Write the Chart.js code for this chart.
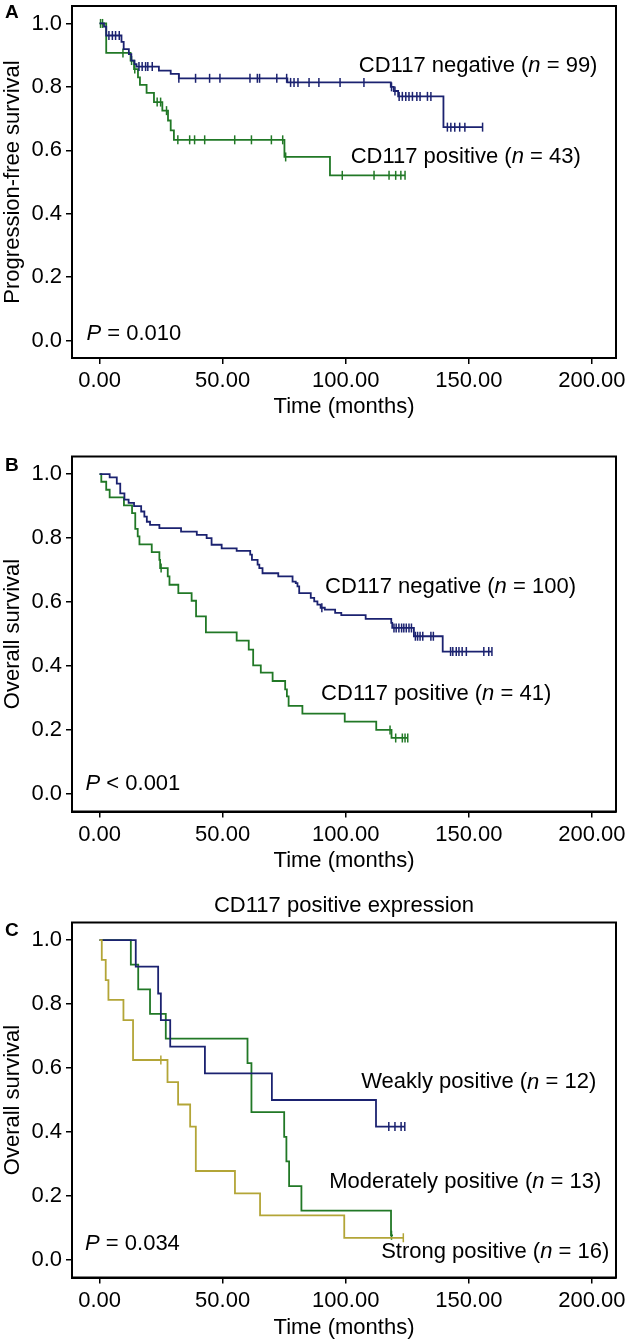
<!DOCTYPE html>
<html>
<head>
<meta charset="utf-8">
<title>CD117 survival curves</title>
<script src="https://cdn.jsdelivr.net/npm/chart.js@4.4.1/dist/chart.umd.min.js"></script>
<style>
  html, body { margin: 0; padding: 0; background: #fff; }
  #wrap { position: relative; width: 630px; height: 1344px; overflow: hidden; }
  canvas { position: absolute; left: 0; }
  .tag { position: absolute; left: 5px; font: bold 19px "Liberation Sans", Arial, sans-serif; line-height: 19px; color: #000; }
</style>
</head>
<body>
<div id="wrap">
  <canvas id="chartA" width="630" height="440" style="top:0"></canvas>
  <canvas id="chartB" width="630" height="440" style="top:440px"></canvas>
  <canvas id="chartC" width="630" height="464" style="top:880px"></canvas>
  <div class="tag" style="top:2px">A</div>
  <div class="tag" style="top:455px">B</div>
  <div class="tag" style="top:920px">C</div>
</div>
<script>
// Axis ticks shared by all three panels
const xTicks = [0, 50, 100, 150, 200];
const yTicks = [0, 0.2, 0.4, 0.6, 0.8, 1.0];

// Panel A - progression-free survival
const pfsNegTime = [0, 1.8, 2.7, 8.9, 9.8, 11.9, 12.9, 14.2, 15.0, 24.1, 28.9, 32.2, 76.3, 118.3, 119.5, 121.3, 139.7, 155.6];
const pfsNegSurv = [1.0, 0.99, 0.962, 0.942, 0.919, 0.903, 0.883, 0.872, 0.864, 0.851, 0.841, 0.827, 0.814, 0.80, 0.787, 0.77, 0.673, 0.673];
const pfsNegCens = [3.8, 5.2, 6.5, 8.0, 16.0, 17.3, 18.7, 19.6, 21.4, 32.2, 39.0, 44.7, 48.9, 61.1, 64.1, 65.0, 72.0, 76.0,
  77.6, 79.0, 80.6, 85.1, 89.1, 97.7, 107.4, 118.6, 120.0, 121.7, 123.0, 124.4, 125.7, 127.1, 128.9, 130.2, 133.2, 134.6,
  141.3, 142.7, 144.3, 146.3, 148.4, 155.6];

const pfsPosTime = [0, 2.7, 12.6, 14.0, 15.6, 16.4, 19.1, 22.1, 25.5, 27.8, 28.9, 30.2, 75.1, 93.6, 124.1];
const pfsPosSurv = [1.0, 0.907, 0.883, 0.856, 0.83, 0.806, 0.781, 0.752, 0.725, 0.694, 0.663, 0.633, 0.579, 0.521, 0.521];
const pfsPosCens = [0.4, 1.2, 9.5, 13.0, 14.3, 23.4, 24.8, 27.2, 31.8, 36.6, 38.6, 42.7, 54.9, 61.7, 69.8, 74.4, 75.6,
  98.6, 111.5, 117.6, 120.3, 122.4, 124.1];

// Panel B - overall survival
const osNegTime = [0, 4.1, 7.0, 8.4, 10.1, 11.8, 14.0, 16.9, 18.2, 19.2, 20.5, 24.3, 33.1, 39.5, 43.5, 45.5, 49.6, 55.7,
  61.2, 61.9, 64.2, 64.9, 66.2, 72.6, 78.4, 79.7, 80.4, 81.1, 85.8, 87.2, 88.5, 89.8, 91.5, 95.7, 98.2, 108.1, 118.5,
  118.9, 127.7, 139.4, 159.4];
const osNegSurv = [1.0, 0.99, 0.97, 0.94, 0.92, 0.91, 0.90, 0.883, 0.867, 0.851, 0.841, 0.831, 0.82, 0.81, 0.80, 0.779,
  0.768, 0.76, 0.748, 0.732, 0.717, 0.706, 0.69, 0.68, 0.664, 0.659, 0.649, 0.628, 0.613, 0.602, 0.592, 0.582, 0.576,
  0.566, 0.559, 0.547, 0.535, 0.519, 0.493, 0.445, 0.445];
const osNegCens = [90.3, 119.6, 120.5, 121.6, 122.7, 123.6, 124.6, 125.7, 126.7, 128.3, 129.2, 130.2, 131.3, 134.6, 135.6,
  142.6, 143.5, 144.9, 146.0, 147.3, 149.0, 156.1, 158.1, 159.4];

const osPosTime = [0, 0.7, 2.7, 4.1, 9.9, 13.2, 14.5, 15.5, 16.2, 21.2, 24.3, 24.6, 27.7, 28.4, 32.0, 37.4, 39.2, 43.2,
  55.7, 60.6, 62.4, 65.5, 70.3, 75.4, 76.1, 76.8, 82.4, 99.6, 112.4, 118.6, 125.2];
const osPosSurv = [1.0, 0.976, 0.951, 0.927, 0.902, 0.878, 0.829, 0.805, 0.78, 0.756, 0.732, 0.706, 0.68, 0.654, 0.628,
  0.604, 0.555, 0.505, 0.479, 0.451, 0.402, 0.379, 0.353, 0.327, 0.305, 0.275, 0.251, 0.226, 0.2, 0.175, 0.175];
const osPosCens = [25.0, 118.0, 120.3, 123.0, 124.1, 125.2];

// Panel C - overall survival by CD117 intensity
const weakTime = [0, 14.7, 23.8, 24.9, 28.7, 42.8, 70.0, 112.3, 124.0];
const weakSurv = [1.0, 0.917, 0.833, 0.75, 0.667, 0.583, 0.5, 0.417, 0.417];
const weakCens = [117.5, 120.0, 122.5, 124.0];

const modTime = [0, 12.7, 15.7, 20.5, 26.9, 60.1, 61.7, 75.0, 75.9, 77.0, 82.0, 118.4, 119.2];
const modSurv = [1.0, 0.923, 0.846, 0.769, 0.692, 0.615, 0.462, 0.385, 0.308, 0.231, 0.154, 0.077, 0.077];
const modCens = [118.6];

const strongTime = [0, 0.9, 2.5, 3.6, 9.7, 13.6, 27.6, 31.9, 36.8, 39.1, 55.0, 65.2, 99.4, 123.4];
const strongSurv = [1.0, 0.938, 0.875, 0.813, 0.75, 0.625, 0.556, 0.486, 0.417, 0.278, 0.208, 0.139, 0.069, 0.069];
const strongCens = [24.9, 123.4];

const FONT = '"Liberation Sans", Arial, Helvetica, sans-serif';
const NAVY = '#1b2270';
const GREEN = '#217826';
const OLIVE = '#b3a537';

Chart.defaults.font.family = FONT;
Chart.defaults.font.size = 22;
Chart.defaults.color = '#000';

// step function lookup, used to put censor marks on the curve
function survAt(times, surv, t) {
    let s = surv[0];
    for (let i = 0; i < times.length; i++) {
        if (times[i] <= t) s = surv[i];
    }
    return s;
}

function curve(label, times, surv, cens, color) {
    return [{
        label: label,
        data: times.map((t, i) => ({ x: t, y: surv[i] })),
        borderColor: color,
        borderWidth: 1.8,
        stepped: true,
        pointRadius: 0,
        fill: false
    }, {
        label: label + ' (censored)',
        data: cens.map(t => ({ x: t, y: survAt(times, surv, t) })),
        borderColor: color,
        backgroundColor: color,
        showLine: false,
        pointStyle: 'line',
        rotation: 90,
        pointRadius: 4.5,
        pointBorderWidth: 1.5,
        pointHoverRadius: 0
    }];
}

// full black box round the plot area
const framePlugin = {
    id: 'frame',
    afterDraw(chart) {
        const { ctx, chartArea: a } = chart;
        ctx.save();
        ctx.strokeStyle = '#000';
        ctx.lineWidth = 2;
        ctx.strokeRect(a.left, a.top, a.right - a.left, a.bottom - a.top);
        ctx.restore();
    }
};

// text inside the plot; *x* marks italic parts
function notesPlugin(notes, heading) {
    return {
        id: 'notes',
        afterDraw(chart) {
            const { ctx, chartArea: a, scales } = chart;
            ctx.save();
            ctx.fillStyle = '#000';
            ctx.textBaseline = 'middle';
            notes.forEach(n => {
                let px = scales.x.getPixelForValue(n.x);
                const py = scales.y.getPixelForValue(n.y);
                n.text.split('*').forEach((part, i) => {
                    ctx.font = (i % 2 ? 'italic ' : '') + '22px ' + FONT;
                    ctx.textAlign = 'left';
                    ctx.fillText(part, px, py);
                    px += ctx.measureText(part).width;
                });
            });
            if (heading) {
                ctx.font = '22px ' + FONT;
                ctx.textAlign = 'center';
                ctx.fillText(heading, (a.left + a.right) / 2, a.top - 17);
            }
            ctx.restore();
        }
    };
}

function makeChart(id, cfg) {
    return new Chart(document.getElementById(id), {
        type: 'line',
        data: { datasets: cfg.datasets },
        options: {
            responsive: false,
            animation: false,
            devicePixelRatio: 1,
            layout: { padding: { top: cfg.padTop, right: 14, left: 0, bottom: 0 } },
            plugins: { legend: { display: false }, tooltip: { enabled: false } },
            scales: {
                x: {
                    type: 'linear',
                    min: -11.2,
                    max: 209.8,
                    afterBuildTicks: s => { s.ticks = xTicks.map(v => ({ value: v })); },
                    afterFit: s => { s.height = cfg.xHeight; s.paddingLeft = 0; s.paddingRight = 0; },
                    ticks: { callback: v => v.toFixed(2), padding: 4, maxRotation: 0, autoSkip: false },
                    grid: { drawOnChartArea: false, tickLength: 6, tickColor: '#000', lineWidth: 1.5 },
                    border: { color: '#000', width: 2 },
                    title: { display: true, text: 'Time (months)', padding: { top: 0, bottom: cfg.titlePad } }
                },
                y: {
                    min: -0.055,
                    max: 1.055,
                    afterBuildTicks: s => { s.ticks = yTicks.map(v => ({ value: v })); },
                    afterFit: s => { s.width = 72; s.paddingTop = 0; s.paddingBottom = 0; },
                    ticks: { callback: v => v.toFixed(1), padding: 4 },
                    grid: { drawOnChartArea: false, tickLength: 6, tickColor: '#000', lineWidth: 1.5 },
                    border: { color: '#000', width: 2 },
                    title: { display: true, text: cfg.yTitle, padding: 0 }
                }
            }
        },
        plugins: [framePlugin, notesPlugin(cfg.notes, cfg.heading)]
    });
}

makeChart('chartA', {
    padTop: 3, xHeight: 82, titlePad: 19.8,
    yTitle: 'Progression-free survival',
    datasets: [
        ...curve('CD117 negative', pfsNegTime, pfsNegSurv, pfsNegCens, NAVY),
        ...curve('CD117 positive', pfsPosTime, pfsPosSurv, pfsPosCens, GREEN)
    ],
    notes: [
        { x: 105.3, y: 0.865, text: 'CD117 negative (*n* = 99)' },
        { x: 102, y: 0.579, text: 'CD117 positive (*n* = 43)' },
        { x: -5.3, y: 0.022, text: '*P* = 0.010' }
    ]
});

makeChart('chartB', {
    padTop: 16.5, xHeight: 68.5, titlePad: 5.8,
    yTitle: 'Overall survival',
    datasets: [
        ...curve('CD117 negative', osNegTime, osNegSurv, osNegCens, NAVY),
        ...curve('CD117 positive', osPosTime, osPosSurv, osPosCens, GREEN)
    ],
    notes: [
        { x: 91.6, y: 0.648, text: 'CD117 negative (*n* = 100)' },
        { x: 90, y: 0.312, text: 'CD117 positive (*n* = 41)' },
        { x: -5.7, y: 0.031, text: '*P* < 0.001' }
    ]
});

makeChart('chartC', {
    padTop: 42.5, xHeight: 66.5, titlePad: 2.8,
    yTitle: 'Overall survival',
    heading: 'CD117 positive expression',
    datasets: [
        ...curve('Strong positive', strongTime, strongSurv, strongCens, OLIVE),
        ...curve('Weakly positive', weakTime, weakSurv, weakCens, NAVY),
        ...curve('Moderately positive', modTime, modSurv, modCens, GREEN)
    ],
    notes: [
        { x: 106.3, y: 0.555, text: 'Weakly positive (*n* = 12)' },
        { x: 93.3, y: 0.243, text: 'Moderately positive (*n* = 13)' },
        { x: 114.4, y: 0.025, text: 'Strong positive (*n* = 16)' },
        { x: -5.9, y: 0.05, text: '*P* = 0.034' }
    ]
});
</script>
</body>
</html>
